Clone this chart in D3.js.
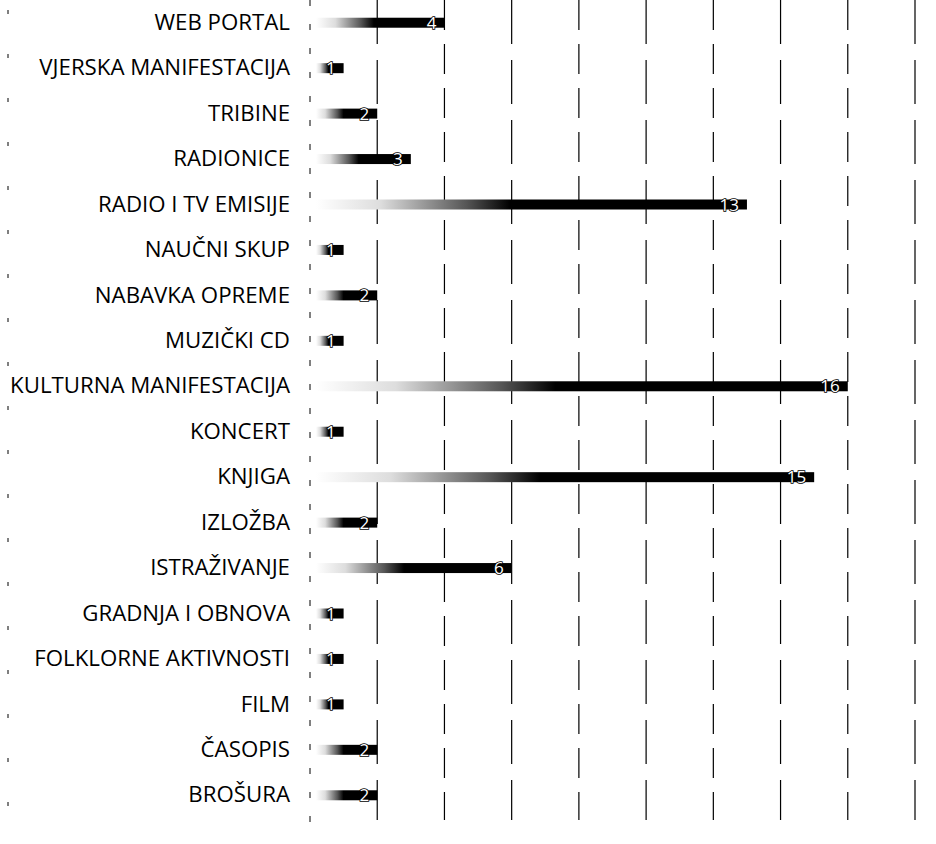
<!DOCTYPE html>
<html><head><meta charset="utf-8">
<script src="https://cdn.jsdelivr.net/npm/d3@7/dist/d3.min.js"></script>
<style>body{margin:0;background:#fff}</style>
</head><body>
<svg id="c" width="936" height="844"></svg>
<script>
const categories = ["WEB PORTAL","VJERSKA MANIFESTACIJA","TRIBINE","RADIONICE","RADIO I TV EMISIJE","NAUČNI SKUP","NABAVKA OPREME","MUZIČKI CD","KULTURNA MANIFESTACIJA","KONCERT","KNJIGA","IZLOŽBA","ISTRAŽIVANJE","GRADNJA I OBNOVA","FOLKLORNE AKTIVNOSTI","FILM","ČASOPIS","BROŠURA"];
const values = [4,1,2,3,13,1,2,1,16,1,15,2,6,1,1,1,2,2];
const ticks = [0,2,4,6,8,10,12,14,16,18];

const svg = d3.select("#c");
const x = d3.scaleLinear().domain([0,18]).range([310,915]);
const y = d3.scaleBand().domain(categories).range([0,818]).paddingInner(0.78).paddingOuter(0.39);

const defs = svg.append("defs");
const g = defs.append("linearGradient").attr("id","gr").attr("x1","0").attr("x2","1").attr("y1","0").attr("y2","0");
g.append("stop").attr("offset","0").attr("stop-color","#fff");
g.append("stop").attr("offset","0.15").attr("stop-color","#ddd");
g.append("stop").attr("offset","0.35").attr("stop-color","#555");
g.append("stop").attr("offset","0.45").attr("stop-color","#000");
g.append("stop").attr("offset","1").attr("stop-color","#000");

// frame line on left
svg.append("line").attr("x1",8).attr("x2",8).attr("y1",10).attr("y2",832)
  .attr("stroke","#000").attr("stroke-width",1).attr("stroke-dasharray","4,40");

// gridlines
svg.append("g").selectAll("line").data(ticks.slice(1)).join("line")
  .attr("x1",d=>x(d)).attr("x2",d=>x(d)).attr("y1",0).attr("y2",820)
  .attr("stroke","#000").attr("stroke-width",1.2)
  .attr("stroke-dasharray",(d,i)=> i%2? "30,14":"44,16");
// category axis line
svg.append("line").attr("x1",x(0)).attr("x2",x(0)).attr("y1",0).attr("y2",830)
  .attr("stroke","#000").attr("stroke-width",1).attr("stroke-dasharray","6,18");

// labels
const yAxis = d3.axisLeft(y).tickSize(0).tickPadding(20);
const ag = svg.append("g").attr("transform",`translate(${x(0)},0)`).call(yAxis);
ag.select(".domain").remove();
const labels = ag.selectAll("text").attr("font-family","'Open Sans', sans-serif").attr("font-size",16).attr("fill","#000");
let maxW = 0;
labels.each(function(){ maxW = Math.max(maxW, this.getComputedTextLength()); });
labels.attr("font-size", 16*280/maxW);

// bars
const bars = svg.append("g").selectAll("g").data(categories).join("g");
bars.append("rect")
  .attr("x",x(0)+6).attr("y",d=>y(d)+y.bandwidth()/2-5)
  .attr("width",(d,i)=>x(values[i])-x(0)-6).attr("height",10)
  .attr("fill","url(#gr)");
bars.append("text")
  .attr("x",(d,i)=>x(values[i])-8).attr("y",d=>y(d)+y.bandwidth()/2+6)
  .attr("text-anchor","end")
  .attr("font-family","'Open Sans', sans-serif").attr("font-size",17)
  .attr("fill","#fff").attr("stroke","#000").attr("stroke-width",1.6)
  .attr("paint-order","stroke")
  .text((d,i)=>values[i]);
</script>
</body></html>
